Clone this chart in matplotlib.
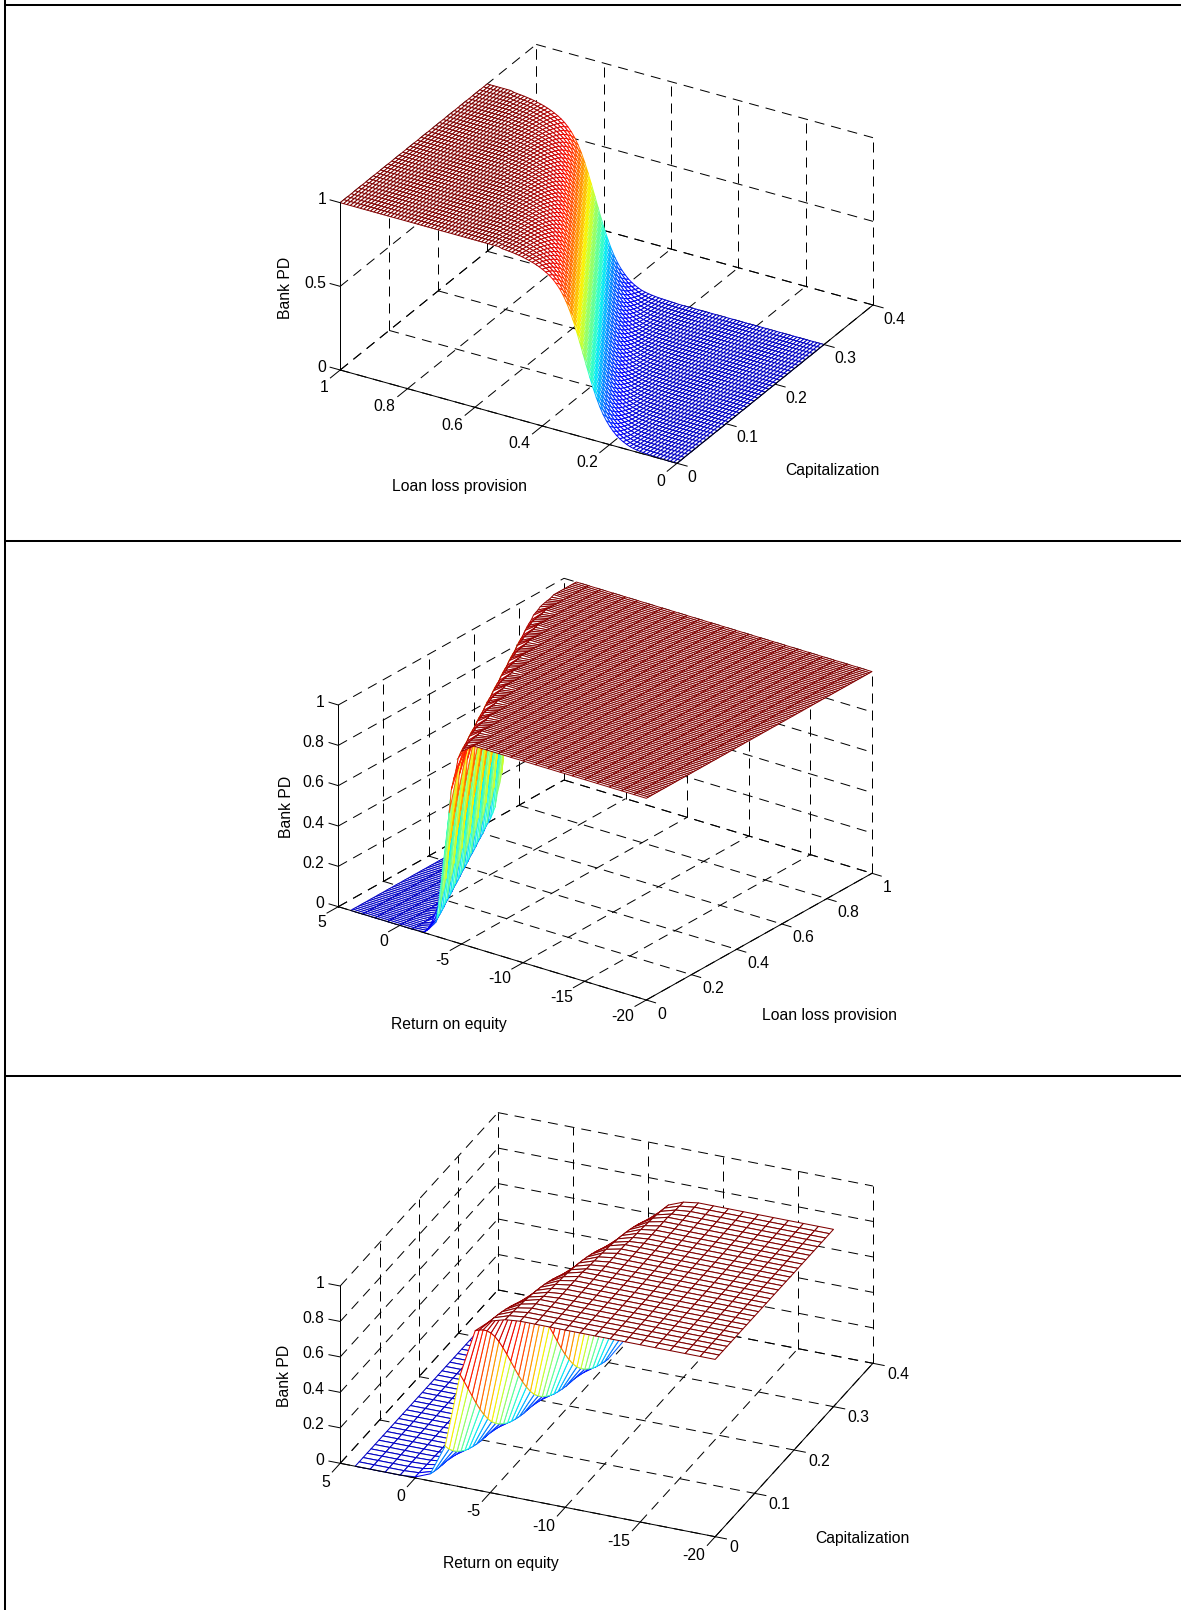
import numpy as np
import matplotlib
matplotlib.use("Agg")
import matplotlib.pyplot as plt
from matplotlib.lines import Line2D
from mpl_toolkits.mplot3d import proj3d

W, H = 1181, 1610
plt.rcParams['font.family'] = ['Liberation Sans', 'DejaVu Sans']
FS = 11.3

pd_curve = [0.000, 0.001, 0.002, 0.003, 0.004, 0.005, 0.006, 0.008, 0.010, 0.013,
            0.017, 0.022, 0.030, 0.040, 0.052, 0.067, 0.087, 0.110, 0.138, 0.172,
            0.213, 0.262, 0.316, 0.376, 0.440, 0.505, 0.570, 0.632, 0.690, 0.742,
            0.786, 0.823, 0.853, 0.877, 0.897, 0.913, 0.926, 0.937, 0.947, 0.955,
            0.962, 0.968, 0.973, 0.978, 0.982, 0.985, 0.988, 0.990, 0.992, 0.994, 1.000]

llp_grid = [i / 100 for i in range(101)]
cap_grid_p1 = [j * 0.0075 for j in range(41)]
cap_grid_p3 = [j / 100 for j in range(31)]
roe_grid = [4 - i for i in range(25)]

# position of the mid-transition (in 0.01 LLP) on each capitalization row, panel 1
p1_mid_llp = [28, 29, 30, 31, 32, 33, 34, 35, 36, 37, 38, 39, 40, 41, 42, 43, 44, 45, 46, 47,
              48, 49, 50, 51, 52, 53, 54, 55, 56, 57, 58, 59, 60, 61, 62, 63, 64, 65, 66, 67, 68]
# mid-transition (0.01 LLP) on each ROE column, panel 2
p2_mid_llp = [70, 61, 52, 43, 34, 25, 16, 7, -2, -11, -20, -29, -38, -47, -56, -65,
              -74, -83, -92, -101, -110, -119, -128, -137, -146]
# mid-transition (0.01 capitalization) on each ROE column, panel 3
p3_mid_cap = [-47, -40, -33, -26, -19, -12, -5, 2, 9, 16, 23, 30, 37, 44, 51, 58, 65,
              72, 79, 86, 93, 100, 107, 114, 121]
P2_STEEP = 1.25

curve = np.array(pd_curve)


def lookup(d):
    return curve[np.clip(np.asarray(d, dtype=int) + 25, 0, 50)]


llp = np.array(llp_grid)
cap1 = np.array(cap_grid_p1)
cap3 = np.array(cap_grid_p3)
roe = np.array(roe_grid)

Z1 = np.array([[lookup(int(round(v * 100)) - m) for v in llp] for m in p1_mid_llp])
Z2 = np.array([[lookup(int(round(P2_STEEP * (round(v * 100) - m)))) for m in p2_mid_llp] for v in llp])
Z3 = np.array([[lookup(m - int(round(c * 100))) for m in p3_mid_cap] for c in cap3])

fig = plt.figure(figsize=(W / 100, H / 100), dpi=100, facecolor='white')

for (x0, y0, x1, y1) in [(5, 0, 5, H), (5, 5, W, 5), (5, 541, W, 541), (5, 1076, W, 1076)]:
    fig.add_artist(Line2D([x0 / W, x1 / W], [1 - y0 / H, 1 - y1 / H], color='black', lw=1.45,
                          transform=fig.transFigure))


def make_axes(O, xe, ye, zt, xlim, ylim, zlim):
    a, b = xe[0] - O[0], xe[1] - O[1]
    c, d = ye[0] - xe[0], xe[1] - ye[1]
    wz = O[1] - zt[1]
    t = np.sqrt(a / b * d / c)
    az = -np.arctan(t)
    se = d / c / t
    el = np.arcsin(se)
    A, B, Cc = a / -np.sin(az), c / np.cos(az), wz / np.cos(el)
    S = 1000
    ax = fig.add_axes([0.0, 0.0, S / W, S / H], projection='3d', computed_zorder=False)
    ax.set_proj_type('ortho')
    ax.view_init(elev=np.degrees(el), azim=np.degrees(az))
    ax.set_xlim(*xlim, view_margin=0)
    ax.set_ylim(*ylim, view_margin=0)
    ax.set_zlim(*zlim, view_margin=0)
    ax.set_box_aspect((A, B, Cc), zoom=1)
    ax.set_axis_off()
    ax.patch.set_visible(False)

    def px(x, y, z):
        x2, y2, _ = proj3d.proj_transform(x, y, z, ax.get_proj())
        return ax.transData.transform((x2, y2))

    ax.apply_aspect()
    p0, p1 = px(xlim[0], ylim[0], zlim[0]), px(xlim[1], ylim[0], zlim[0])
    zoom = a / (p1[0] - p0[0])
    ax.set_box_aspect((A, B, Cc), zoom=zoom)
    ax.apply_aspect()
    p0 = px(xlim[0], ylim[0], zlim[0])
    dx, dy = O[0] - p0[0], (H - O[1]) - p0[1]
    ax.set_position([dx / W, dy / H, S / W, S / H])
    ax.apply_aspect()
    ax.M = ax.get_proj()
    return ax, px


DASH = (0, (10, 7))
LW = 0.72


def grid_lines(ax, xticks, yticks, zticks):
    xl, yl, zl = ax.get_xlim(), ax.get_ylim(), ax.get_zlim()
    kw = dict(color='black', lw=LW, ls=DASH, zorder=1)
    for v in xticks:
        ax.plot([v, v], [yl[0], yl[1]], [zl[0], zl[0]], **kw)
        ax.plot([v, v], [yl[1], yl[1]], [zl[0], zl[1]], **kw)
    for v in yticks:
        ax.plot([xl[0], xl[1]], [v, v], [zl[0], zl[0]], **kw)
        ax.plot([xl[0], xl[0]], [v, v], [zl[0], zl[1]], **kw)
    for v in zticks:
        ax.plot([xl[0], xl[0]], [yl[0], yl[1]], [v, v], **kw)
        ax.plot([xl[0], xl[1]], [yl[1], yl[1]], [v, v], **kw)


def axes_lines(ax, px, xticks, yticks, zticks, xlabs, ylabs, zlabs, xoff, yoff, zoff):
    xl, yl, zl = ax.get_xlim(), ax.get_ylim(), ax.get_zlim()
    kw = dict(color='black', lw=LW, zorder=3)
    ax.plot([xl[0], xl[1]], [yl[0], yl[0]], [zl[0], zl[0]], **kw)
    ax.plot([xl[1], xl[1]], [yl[0], yl[1]], [zl[0], zl[0]], **kw)
    ax.plot([xl[0], xl[0]], [yl[0], yl[0]], [zl[0], zl[1]], **kw)
    ty = 0.05 * (yl[1] - yl[0])
    tx = 0.03 * (xl[1] - xl[0])
    for v, s in zip(xticks, xlabs):
        ax.plot([v, v], [yl[0], yl[0] - ty], [zl[0], zl[0]], **kw)
        p = px(v, yl[0], zl[0])
        fig.text((p[0] + xoff[0]) / W, (p[1] - xoff[1]) / H, s, ha='right', va='center', fontsize=FS)
    for v, s in zip(yticks, ylabs):
        ax.plot([xl[1], xl[1] + tx], [v, v], [zl[0], zl[0]], **kw)
        p = px(xl[1], v, zl[0])
        fig.text((p[0] + yoff[0]) / W, (p[1] - yoff[1]) / H, s, ha='left', va='center', fontsize=FS)
    for v, s in zip(zticks, zlabs):
        ax.plot([xl[0], xl[0] - tx], [yl[0], yl[0]], [v, v], **kw)
        p = px(xl[0], yl[0], v)
        fig.text((p[0] + zoff[0]) / W, (p[1] - zoff[1]) / H, s, ha='right', va='center', fontsize=FS)


def mesh(ax, xg, yg, Z, mode='hi', lw=0.7):
    X, Y = np.meshgrid(xg, yg)
    surf = ax.plot_surface(X, Y, Z, rstride=1, cstride=1, color='white', shade=False,
                           linewidth=lw, antialiased=True, zorder=2)
    zlo, zhi = Z[:-1, :-1], Z[:-1, 1:]
    zc = {'hi': zhi, 'lo': zlo, 'mean': (zlo + zhi) / 2}[mode]
    cols = plt.get_cmap('jet')(0.06 + 0.94 * zc.ravel())
    surf.set_facecolor('white')
    surf.set_edgecolor(cols)
    return surf


def name(x, y, s, rot=0):
    fig.text(x / W, 1 - y / H, s, ha='center', va='center', fontsize=FS, rotation=rot)


# ---------- panel 1
ax, px = make_axes((340.2, 370), (677, 463.3), (873, 305), (340.2, 202.7), (1, 0), (0, 0.4), (0, 1))
xt, yt, zt = [1, 0.8, 0.6, 0.4, 0.2, 0], [0, 0.1, 0.2, 0.3, 0.4], [0, 0.5, 1]
xs, ys, zs = ['1', '0.8', '0.6', '0.4', '0.2', '0'], ['0', '0.1', '0.2', '0.3', '0.4'], ['0', '0.5', '1']
grid_lines(ax, xt, yt, zt)
mesh(ax, llp, cap1, Z1, mode='lo')
axes_lines(ax, px, xt, yt, zt, xs, ys, zs, (-12, 18), (10, 14), (-14, -3))
name(460, 486.7, 'Loan loss provision')
name(832, 470.7, 'Capitalization')
name(285.5, 287.5, 'Bank PD', 90)

# ---------- panel 2
ax, px = make_axes((338.3, 906.7), (646.3, 1000), (872, 873.3), (338.3, 705), (5, -20), (0, 1), (0, 1))
xt, yt, zt = [5, 0, -5, -10, -15, -20], [0, 0.2, 0.4, 0.6, 0.8, 1], [0, 0.2, 0.4, 0.6, 0.8, 1]
xs, ys, zs = ['5', '0', '-5', '-10', '-15', '-20'], ['0', '0.2', '0.4', '0.6', '0.8', '1'], ['0', '0.2', '0.4', '0.6', '0.8', '1']
grid_lines(ax, xt, yt, zt)
mesh(ax, roe, llp, Z2, mode='mean')
axes_lines(ax, px, xt, yt, zt, xs, ys, zs, (-12, 16), (11, 14), (-14, -3))
name(448.5, 1024, 'Return on equity')
name(829, 1015, 'Loan loss provision')
name(286.5, 807, 'Bank PD', 90)

# ---------- panel 3
ax, px = make_axes((340.2, 1463.3), (715.2, 1536.7), (872.9, 1363.3), (340.2, 1286), (5, -20), (0, 0.4), (0, 1))
xt, yt, zt = [5, 0, -5, -10, -15, -20], [0, 0.1, 0.2, 0.3, 0.4], [0, 0.2, 0.4, 0.6, 0.8, 1]
xs, ys, zs = ['5', '0', '-5', '-10', '-15', '-20'], ['0', '0.1', '0.2', '0.3', '0.4'], ['0', '0.2', '0.4', '0.6', '0.8', '1']
grid_lines(ax, xt, yt, zt)
mesh(ax, roe, cap3, Z3, mode='hi', lw=0.75)
axes_lines(ax, px, xt, yt, zt, xs, ys, zs, (-10, 19), (14, 11), (-16, -3))
name(501, 1563.5, 'Return on equity')
name(862.7, 1538.5, 'Capitalization')
name(284.5, 1376, 'Bank PD', 90)

fig.savefig('out.png', dpi=100)
